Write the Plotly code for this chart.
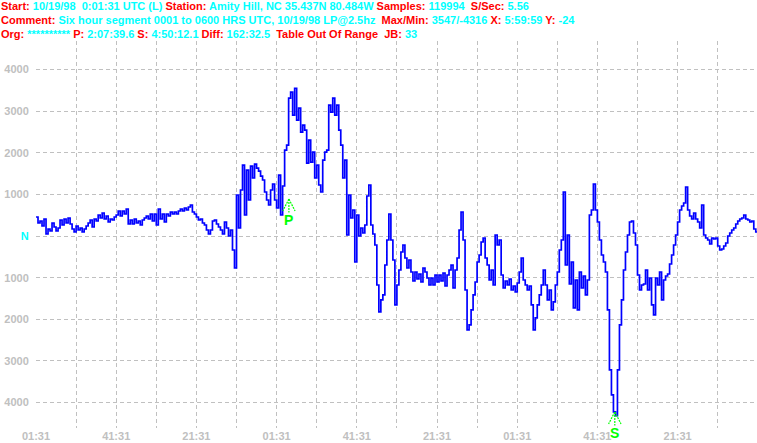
import plotly.graph_objects as go

# ---------------- data ----------------
# one sample per minute, starting at 0:01:31 UTC
signal_values = [
    456, 312, 360, 240, 408, 48, 168, 120, 312, 216,
    120, 192, 384, 264, 408, 312, 432, 288, 168, 96,
    240, 144, 192, 96, 168, 240, 312, 384, 216, 408,
    360, 504, 432, 552, 408, 480, 336, 408, 384, 456,
    504, 600, 480, 600, 528, 648, 288, 384, 288, 408,
    312, 360, 264, 384, 432, 480, 408, 528, 360, 528,
    264, 648, 408, 528, 336, 528, 480, 576, 528, 576,
    528, 600, 648, 600, 672, 624, 696, 744, 576, 528,
    456, 384, 408, 312, 264, 144, 48, 144, 360, 384,
    288, 216, 144, 48, 336, 192, 0, 144, -336, -768,
    984, 192, 1104, 1704, 504, 1584, 864, 1680, 1392, 1728,
    1632, 1560, 1440, 1344, 1056, 864, 744, 1104, 1248, 864,
    672, 1464, 504, 1200, 2064, 2184, 3312, 3456, 2904, 3547,
    2784, 3072, 2496, 2664, 2544, 1752, 2304, 1776, 2016, 1392,
    1704, 1224, 1056, 1824, 2016, 2064, 3144, 2976, 3312, 2904,
    3144, 2544, 2184, 1392, 1824, 24, 984, 432, 624, -624,
    504, 0, 192, 72, 264, 960, 1224, 264, 48, -216,
    -1176, -1824, -1536, -1416, -696, -96, 528, -96, -576, -1656,
    -1176, -816, -384, -216, -528, -768, -576, -864, -1080, -864,
    -1032, -912, -1104, -768, -864, -1008, -1176, -1008, -1176, -936,
    -1104, -936, -1080, -888, -1200, -936, -816, -696, -1248, -816,
    -528, 144, 576, -96, -1296, -2256, -2136, -1776, -1416, -1104,
    -624, -456, -144, -48, -528, -696, -1056, -816, -1176, 24,
    -216, -96, -936, -1248, -1080, -1176, -1032, -1296, -1200, -1344,
    -1128, -864, -528, -1056, -1176, -1296, -1200, -1656, -2256, -1968,
    -1656, -1416, -1176, -816, -1176, -1536, -1296, -1776, -1584, -1176,
    -864, -336, -96, 1056, -696, 24, -1152, -624, -1728, -1056,
    -1776, -864, -1248, -960, -1416, -1056, 504, 624, 1248, 624,
    336, -96, -456, -624, -864, -1776, -3216, -3816, -4224, -4316,
    -3216, -2136, -1536, -816, -384, 24, 336, 360, 72, -216,
    -936, -1296, -1176, -1152, -816, -1296, -1008, -1656, -1896, -1008,
    -1176, -864, -1536, -1056, -960, -912, -672, -456, -216, 24,
    336, 624, 720, 792, 1176, 624, 480, 408, 552, 408,
    336, 192, 744, 24, -48, -96, -192, -48, -72, -48,
    -240, -336, -312, -240, -168, 0, 72, 144, 192, 288,
    360, 408, 432, 504, 408, 384, 336, 360, 168, 96, -24,
]
sample_minutes = list(range(len(signal_values)))

x_tick_minutes = list(range(0, 361, 20))
x_tick_labels = ["01:31", "", "41:31", "", "21:31", "", "01:31", "", "41:31", "",
                 "21:31", "", "01:31", "", "41:31", "", "21:31", "", "01:31"]

y_tick_values = [4000, 3000, 2000, 1000, 0, -1000, -2000, -3000, -4000]
y_tick_labels = ["4000", "3000", "2000", "1000", "<span style='color:#00ffff'>N</span>",
                 "1000", "2000", "3000", "4000"]

pick_names = ["P", "S"]
pick_minutes = [126.14, 288.68]      # 2:07:39.6 and 4:50:12.1 after 0:01:31
pick_levels = [888, -4224]

header_lines = [
    [("Start:", "r"), (" 10/19/98\u00a0\u00a00:01:31 UTC (L) ", "c"), ("Station:", "r"),
     (" Amity Hill, NC 35.437N 80.484W ", "c"), ("Samples:", "r"), (" 119994\u00a0\u00a0", "c"),
     ("S/Sec:", "r"), (" 5.56", "c")],
    [("Comment:", "r"), (" Six hour segment 0001 to 0600 HRS UTC, 10/19/98 LP@2.5hz\u00a0\u00a0", "c"),
     ("Max/Min:", "r"), (" 3547/-4316 ", "c"), ("X:", "r"), (" 5:59:59 ", "c"),
     ("Y:", "r"), (" -24", "c")],
    [("Org:", "r"), (" ********** ", "c"), ("P:", "r"), (" 2:07:39.6 ", "c"), ("S:", "r"),
     (" 4:50:12.1 ", "c"), ("Diff:", "r"), (" 162:32.5\u00a0\u00a0", "c"),
     ("Table Out Of Range\u00a0\u00a0JB:", "r"), (" 33", "c")],
]

# ---------------- figure ----------------
RED = "#ff0000"
CYAN = "#00ffff"
GREEN = "#00ff00"
GRAY = "#c0c0c0"
FONT = "Liberation Sans, Arial, sans-serif"

fig = go.Figure()
fig.add_trace(go.Scatter(
    x=sample_minutes, y=signal_values, mode="lines",
    line=dict(color="#0000ff", width=1.7, shape="hv"), hoverinfo="skip",
))

px_per_min = (757 - 36) / 359.6
px_per_unit = 41.65 / 1000.0

shapes = []
annotations = []
for name, t, lvl in zip(pick_names, pick_minutes, pick_levels):
    dx = 6.2 / px_per_min
    dy_arm = 12 / px_per_unit
    dy_stem = 13.5 / px_per_unit
    for x1 in (t - dx, t + dx):
        shapes.append(dict(type="line", xref="x", yref="y", x0=t, y0=lvl, x1=x1, y1=lvl - dy_arm,
                           line=dict(color=GREEN, width=1.2, dash="2px,1px")))
    shapes.append(dict(type="line", xref="x", yref="y", x0=t, y0=lvl, x1=t, y1=lvl - dy_stem,
                       line=dict(color=GREEN, width=1.2, dash="2px,1px")))
    annotations.append(dict(xref="x", yref="y", x=t, y=lvl, text=name, showarrow=False,
                            yshift=-21, xanchor="center", yanchor="middle",
                            font=dict(family=FONT, size=14, color=GREEN, weight="bold")))

line_centers = [6, 20, 33.5]
for parts, yc in zip(header_lines, line_centers):
    html = "".join("<span style='color:%s'>%s</span>" % (RED if k == "r" else CYAN, s)
                   for s, k in parts)
    annotations.append(dict(xref="paper", yref="paper", x=0, y=1, xanchor="left",
                            yanchor="middle", xshift=-37, yshift=41 - yc, text=html,
                            showarrow=False, align="left",
                            font=dict(family=FONT, size=11, color=CYAN, weight="bold")))

fig.update_layout(
    width=757, height=443,
    margin=dict(l=36, r=0, t=41, b=15, pad=0, autoexpand=False),
    paper_bgcolor="white", plot_bgcolor="white",
    showlegend=False,
    shapes=shapes, annotations=annotations,
    xaxis=dict(range=[0, 359.6], tickmode="array", tickvals=x_tick_minutes, ticktext=x_tick_labels,
               showgrid=True, gridcolor=GRAY, gridwidth=1, griddash="4px,3px",
               zeroline=False, showline=False, ticks="", automargin=False,
               tickfont=dict(family=FONT, size=11, color=GRAY, weight="bold")),
    yaxis=dict(range=[-4610, 4682], tickmode="array", tickvals=y_tick_values, ticktext=y_tick_labels,
               showgrid=True, gridcolor=GRAY, gridwidth=1, griddash="4px,3px",
               zeroline=False, showline=False, ticks="outside", ticklen=4, tickcolor="white",
               automargin=False,
               tickfont=dict(family=FONT, size=11, color=GRAY, weight="bold")),
)

fig.write_html("out.html", config={"displayModeBar": False},
               post_script="document.body.style.margin='0';")
